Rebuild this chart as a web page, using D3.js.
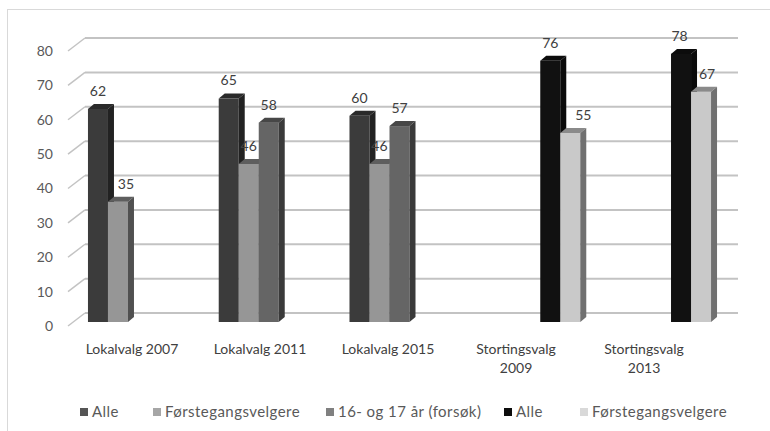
<!DOCTYPE html>
<html>
<head>
<meta charset="utf-8">
<script src="https://cdn.jsdelivr.net/npm/d3@7"></script>
<style>
  html, body { margin: 0; padding: 0; background: #fff; }
  svg { display: block; font-family: Lato, "Liberation Sans", sans-serif; }
</style>
</head>
<body>
<svg id="chart" width="770" height="431"></svg>
<script>
// ---------- data ----------
const categories = ["Lokalvalg 2007", "Lokalvalg 2011", "Lokalvalg 2015", "Stortingsvalg 2009", "Stortingsvalg 2013"];
const categoryLines = [["Lokalvalg 2007"], ["Lokalvalg 2011"], ["Lokalvalg 2015"], ["Stortingsvalg", "2009"], ["Stortingsvalg", "2013"]];
const seriesNames = ["Alle", "Førstegangsvelgere", "16- og 17 år (forsøk)", "Alle", "Førstegangsvelgere"];
const alleLokal      = [62, 65, 60, null, null];
const forsteLokal    = [35, 46, 46, null, null];
const unge1617       = [null, 58, 57, null, null];
const alleStorting   = [null, null, null, 76, 78];
const forsteStorting = [null, null, null, 55, 67];
const yTicks = [0, 10, 20, 30, 40, 50, 60, 70, 80];

const seriesValues = [alleLokal, forsteLokal, unge1617, alleStorting, forsteStorting];

// ---------- styles ----------
const faceFront = ["#3b3b3b", "#969696", "#656565", "#111111", "#c9c9c9"];
const faceTop   = ["#2a2a2a", "#5e5e5e", "#474747", "#0c0c0c", "#8a8a8a"];
const faceSide  = ["#222222", "#505050", "#3a3a3a", "#0a0a0a", "#707070"];
const legendColor = ["#555555", "#a6a6a6", "#808080", "#0d0d0d", "#d9d9d9"];
const legendX = [80, 153, 326, 504, 580];
// label nudges (Excel moved a few labels to avoid overlaps)
const labelNudge = {"1-0": 8, "4-3": 13, "4-4": 6, "3-4": -1.5};

const svg = d3.select("#chart");

// chart border
svg.append("rect").attr("x", 7.5).attr("y", 9.5).attr("width", 800).attr("height", 500)
  .attr("fill", "#fff").attr("stroke", "#d9d9d9").attr("stroke-width", 1);

// ---------- scales ----------
const depthX = 17, depthY = 13;           // wall depth
const barDX = 6, barDY = 5;               // bar depth
const yBack  = d3.scaleLinear().domain([0, 80]).range([313, 38]);
const yFront = d3.scaleLinear().domain([0, 80]).range([313 + depthY, 38 + depthY]);
const yBar   = d3.scaleLinear().domain([0, 80]).range([322, 47]);
const xBackL = 85, xBackR = 738;

const x0 = d3.scaleBand().domain(categories).range([72.6, 726.4]).paddingInner(0.235).paddingOuter(0.1175);
const x1 = d3.scaleBand().domain(d3.range(seriesNames.length)).range([0, x0.bandwidth()]);
const xLabel = d3.scaleBand().domain(categories).range([68, 708]);

// ---------- gridlines ----------
const grid = svg.append("g");
grid.selectAll("line.back").data(yTicks).join("line")
  .attr("x1", xBackL).attr("x2", xBackR)
  .attr("y1", d => yBack(d)).attr("y2", d => yBack(d))
  .attr("stroke", "#c3c3c3").attr("stroke-width", 2);
grid.selectAll("line.diag").data(yTicks).join("line")
  .attr("x1", xBackL - depthX).attr("y1", d => yFront(d))
  .attr("x2", xBackL).attr("y2", d => yBack(d))
  .attr("stroke", "#c3c3c3").attr("stroke-width", 1.5);

// ---------- y axis ----------
const yAxis = svg.append("g").attr("transform", "translate(53,0)")
  .call(d3.axisLeft(yFront).tickValues(yTicks).tickSize(0).tickPadding(0));
yAxis.select(".domain").remove();
yAxis.selectAll("text").attr("fill", "#595959").style("font-size", "14px").style("font-family", "Lato, sans-serif");

// ---------- bars ----------
const bars = [];
seriesValues.forEach((vals, s) => {
  vals.forEach((v, c) => {
    if (v !== null) bars.push({s, c, v, cat: categories[c]});
  });
});
bars.sort((a, b) => a.c - b.c || a.s - b.s);

const barG = svg.append("g");
const bw = x1.bandwidth();
const bg = barG.selectAll("g.bar").data(bars).join("g").attr("class", "bar");
bg.append("rect")
  .attr("x", d => x0(d.cat) + x1(d.s)).attr("y", d => yBar(d.v))
  .attr("width", bw).attr("height", d => yBar(0) - yBar(d.v))
  .attr("fill", d => faceFront[d.s]);
bg.append("path")
  .attr("d", d => {
    const x = x0(d.cat) + x1(d.s), t = yBar(d.v);
    return `M${x},${t}L${x + barDX},${t - barDY}L${x + bw + barDX},${t - barDY}L${x + bw},${t}Z`;
  })
  .attr("fill", d => faceTop[d.s]);
bg.append("path")
  .attr("d", d => {
    const x = x0(d.cat) + x1(d.s) + bw, t = yBar(d.v), b = yBar(0);
    return `M${x},${t}L${x + barDX},${t - barDY}L${x + barDX},${b - barDY}L${x},${b}Z`;
  })
  .attr("fill", d => faceSide[d.s]);

// ---------- value labels ----------
svg.append("g").selectAll("text").data(bars).join("text")
  .attr("x", d => x0(d.cat) + x1(d.s) + bw / 2 + (labelNudge[d.s + "-" + d.c] || 0))
  .attr("y", d => yBar(d.v) - 18)
  .attr("dy", "0.35em")
  .attr("text-anchor", "middle")
  .attr("fill", "#404040").style("font-size", "14px")
  .text(d => d.v);

// ---------- x axis labels ----------
const xAxis = svg.append("g").attr("transform", "translate(0,341)")
  .call(d3.axisBottom(xLabel).tickSize(0).tickPadding(0));
xAxis.select(".domain").remove();
xAxis.selectAll(".tick text").each(function(d, i) {
  const t = d3.select(this).text(null).attr("fill", "#404040").style("font-size", "14px")
    .style("font-family", "Lato, sans-serif").attr("dy", null).attr("y", 0);
  categoryLines[i].forEach((line, k) => {
    t.append("tspan").attr("x", 0).attr("y", 13 + k * 19).text(line);
  });
});

// ---------- legend ----------
const lg = svg.append("g").selectAll("g").data(seriesNames).join("g")
  .attr("transform", (d, i) => `translate(${legendX[i]},408)`);
lg.append("rect").attr("width", 8).attr("height", 8).attr("fill", (d, i) => legendColor[i]);
lg.append("text").attr("x", 12).attr("y", 4).attr("dy", "0.35em")
  .attr("fill", "#595959").style("font-size", "15px").style("letter-spacing", "0.45px").text(d => d);
</script>
</body>
</html>
